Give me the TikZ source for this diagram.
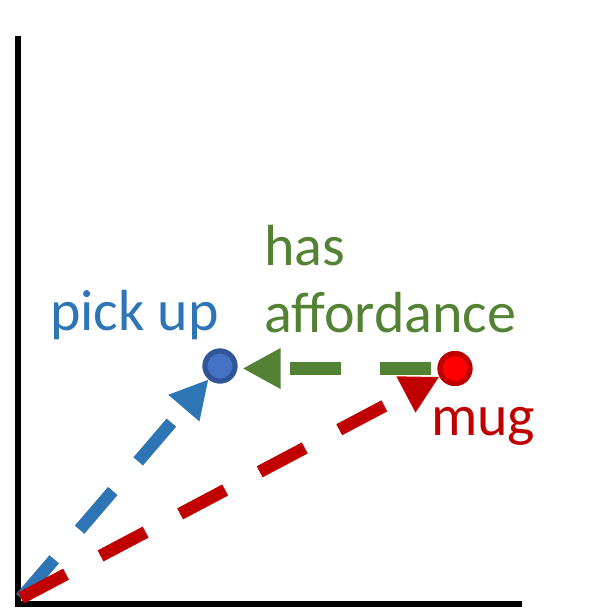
\documentclass[tikz,border=0pt]{standalone}
\usepackage{fontspec}
\setmainfont{Carlito}
\usetikzlibrary{arrows.meta}
\definecolor{lineblue}{HTML}{2E75B6}
\definecolor{linegreen}{HTML}{548235}
\definecolor{linered}{HTML}{C00000}
\definecolor{dotblue}{HTML}{4472C4}
\definecolor{dotblueborder}{HTML}{2F5597}
\definecolor{dotred}{HTML}{FF0000}
\tikzset{
  axis/.style={line width=6pt, draw=black},
  vecline/.style={line width=12.5pt, dash pattern=on 51pt off 39pt,
    -{Triangle[length=38pt,width=38pt]}},
  dot/.style={circle, line width=5pt, inner sep=0pt, minimum size=30pt},
  lbl/.style={inner sep=0pt, anchor=base west, font=\fontsize{58}{67}\selectfont},
}
\begin{document}
\begin{tikzpicture}[x=1pt,y=-1pt]
\useasboundingbox (0,0) rectangle (608,608);
% axes
\coordinate (ytop) at (18,36);
\coordinate (corner) at (18,604);
\coordinate (xend) at (521.5,604);
\draw[axis] (ytop) -- (corner) -- (xend);
% points
\coordinate (o) at (21,598);
\node[dot, draw=dotblueborder, fill=dotblue] (pick) at (220,366) {};
\node[dot, draw=linered, fill=dotred] (mug) at (455,368.5) {};
% vectors
\draw[vecline, draw=lineblue] (o) -- (pick);
\draw[vecline, draw=linered] (o) -- (mug);
\draw[vecline, draw=linegreen, shorten <=7pt, shorten >=5pt] (mug.west) -- (mug.west -| pick.east);
% redraw dots on top
\node[dot, draw=dotblueborder, fill=dotblue] at (pick) {};
\node[dot, draw=linered, fill=dotred] at (mug) {};
% labels
\node[lbl, text=lineblue] (picklbl) at (50,330) {pick up};
\node[lbl, text=linegreen] (haslbl) at (264,265) {has};
\node[lbl, text=linegreen] (afflbl) at (264,332) {affordance};
\node[lbl, text=linered] (muglbl) at (431,435) {mug};
\end{tikzpicture}
\end{document}
